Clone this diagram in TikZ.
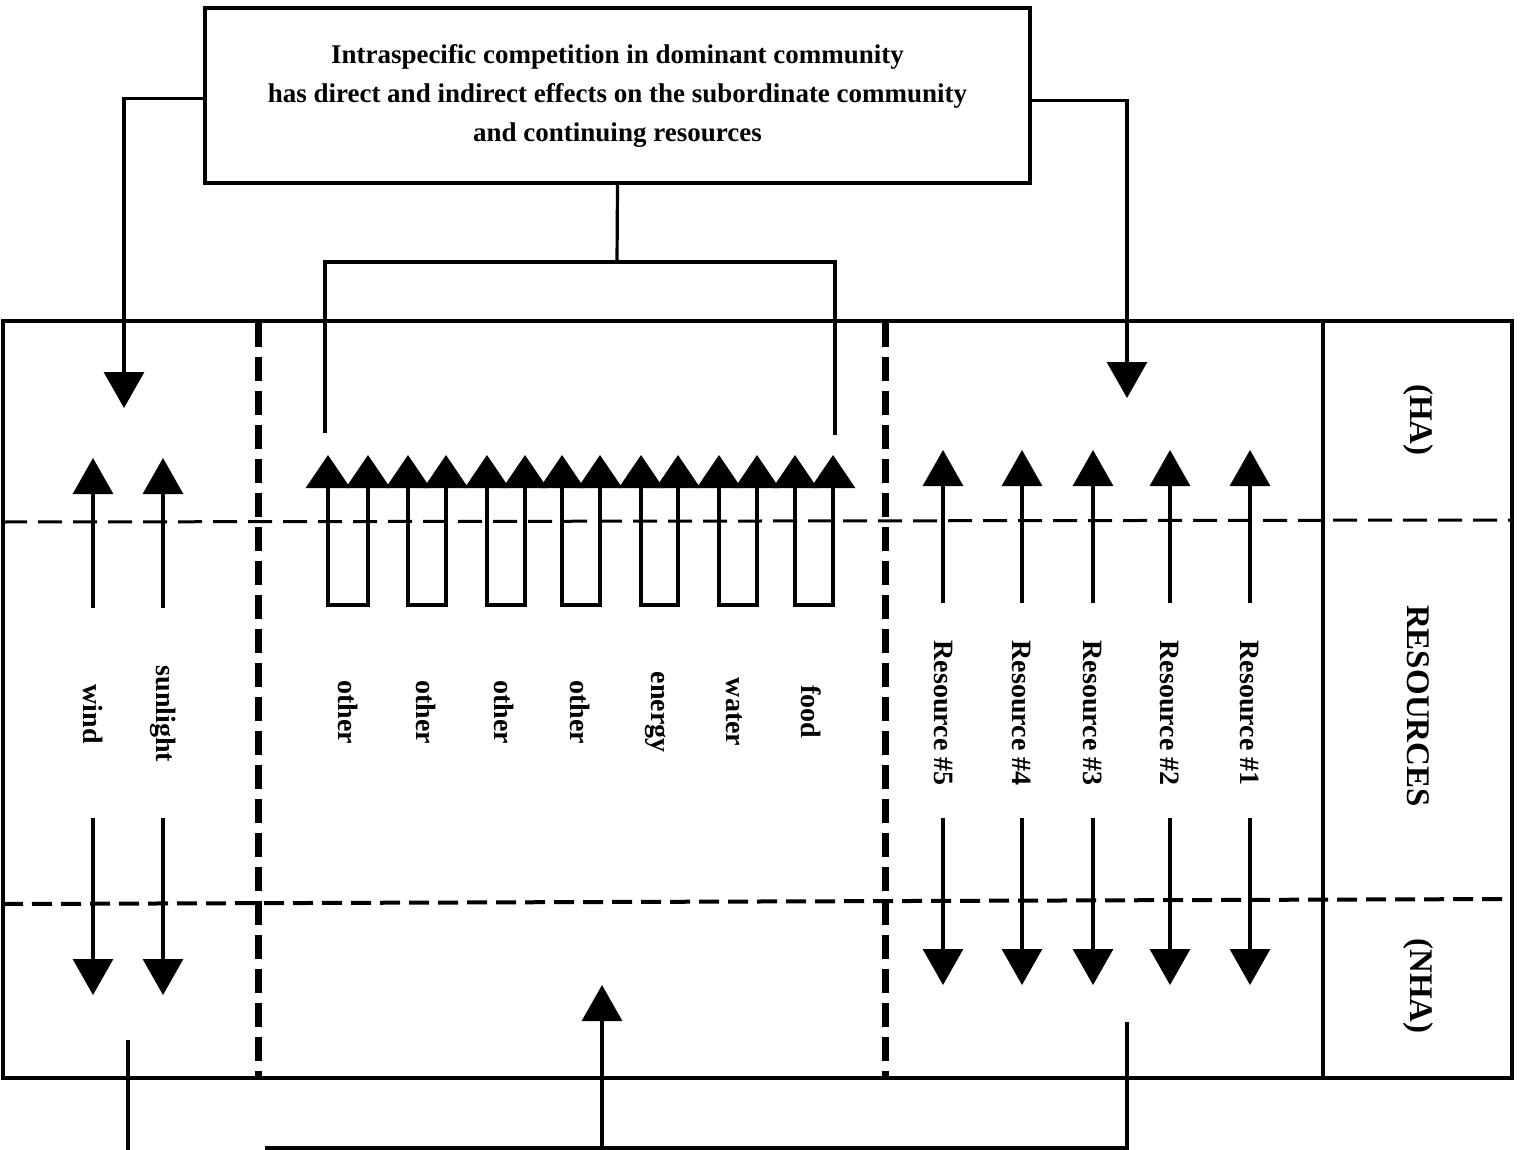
\documentclass[tikz,border=0pt]{standalone}
\usepackage{fontspec}
\setmainfont{Liberation Serif}
\usetikzlibrary{arrows.meta}
\begin{document}
\begin{tikzpicture}[x=1pt,y=-1pt,
  solid line/.style={line width=3.2pt},
  arr/.style={line width=3.2pt,-{Triangle[length=36pt,width=40pt]}},
  uarr/.style={line width=3.2pt,{Triangle[length=33pt,width=44pt]}-{Triangle[length=33pt,width=44pt]}},
  thickdash/.style={line width=7pt,dash pattern=on 24pt off 10pt},
  thindash/.style={line width=3pt,dash pattern=on 24pt off 11pt},
  lbl/.style={rotate=-90,inner sep=0pt,font=\bfseries\fontsize{28}{34}\selectfont},
  side/.style={rotate=-90,inner sep=0pt,font=\bfseries\fontsize{33}{38}\selectfont},
  headbox/.style={draw,line width=3.2pt,minimum width=825pt,minimum height=175pt,
    align=center,font=\bfseries\fontsize{27}{39}\selectfont}]
\useasboundingbox (0,0) rectangle (1522,1150);

% heading box
\node[headbox] (top) at (617.5,95.5)
  {Intraspecific competition in dominant community\\
   has direct and indirect effects on the subordinate community\\
   and continuing resources};

% frame with its compartments
\draw[solid line] (3,321) rectangle (1512,1078);
\draw[solid line] (1323,321) -- (1323,1078);
\draw[thickdash] (258,323) -- (258,1078);
\draw[thickdash] (885,323) -- (885,1078);
\draw[thindash] (3,522) -- (1512,520);
\draw[line width=4pt,dash pattern=on 20pt off 9pt] (3,904) -- (1512,899);

% connectors from the heading box
\coordinate (lt) at (124,408);
\coordinate (rt) at (1127,398);
\draw[arr] ([yshift=-3pt]top.west) -| (lt);
\draw[arr] ([yshift=-5pt]top.east) -| (rt);
\coordinate (mid) at (617,262);
\coordinate (ml) at (325,433);
\coordinate (mr) at (835,435);
\draw[solid line] (top.south) -- (mid);
\draw[solid line] (ml) |- (mid) -| (mr);

% left compartment: wind and sunlight
\foreach \x/\t/\n in {93/wind/w, 163/sunlight/s} {
  \node[lbl] (\n) at (\x,714) {\t};
  \coordinate (\n-a) at (\x,608);
  \coordinate (\n-b) at (\x,458);
  \coordinate (\n-c) at (\x,818);
  \coordinate (\n-d) at (\x,995);
  \draw[arr] (\n-a) -- (\n-b);
  \draw[arr] (\n-c) -- (\n-d);
}

% middle compartment: paired arrows
\foreach \l/\r/\lx/\t/\n in {328/368/348/other/o1, 408/446/426/other/o2,
    487/525/504/other/o3, 562/600/580/other/o4, 641/678/656/energy/en,
    719/757/734/water/wa, 795/833/811/food/fo} {
  \node[lbl] (\n) at (\lx,712) {\t};
  \coordinate (\n-l) at (\l,455);
  \coordinate (\n-r) at (\r,455);
  \draw[uarr] (\n-l) -- (\l,605) -- (\r,605) -- (\n-r);
}

% right compartment: numbered resources
\foreach \x/\k in {943/5, 1022/4, 1093/3, 1170/2, 1250/1} {
  \node[lbl] (r\k) at (\x,713) {Resource \#\k};
  \coordinate (r\k-a) at (\x,603);
  \coordinate (r\k-b) at (\x,450);
  \coordinate (r\k-c) at (\x,818);
  \coordinate (r\k-d) at (\x,985);
  \draw[arr] (r\k-a) -- (r\k-b);
  \draw[arr] (r\k-c) -- (r\k-d);
}

% side labels
\node[side] (ha) at (1418,420) {(HA)};
\node[side] (res) at (1418,706) {RESOURCES};
\node[side] (nha) at (1418,986) {(NHA)};

% feedback connectors below the frame
\coordinate (bl0) at (128,1040);
\coordinate (bl1) at (128,1152);
\draw[solid line] (bl0) -- (bl1);
\coordinate (bh0) at (265,1148);
\coordinate (bh1) at (1127,1148);
\coordinate (br) at (1127,1022);
\coordinate (bm0) at (602,1148);
\coordinate (bm) at (602,985);
\draw[solid line] (bh0) -- (bh1) -- (br);
\draw[arr] (bm0) -- (bm);
\end{tikzpicture}
\end{document}
